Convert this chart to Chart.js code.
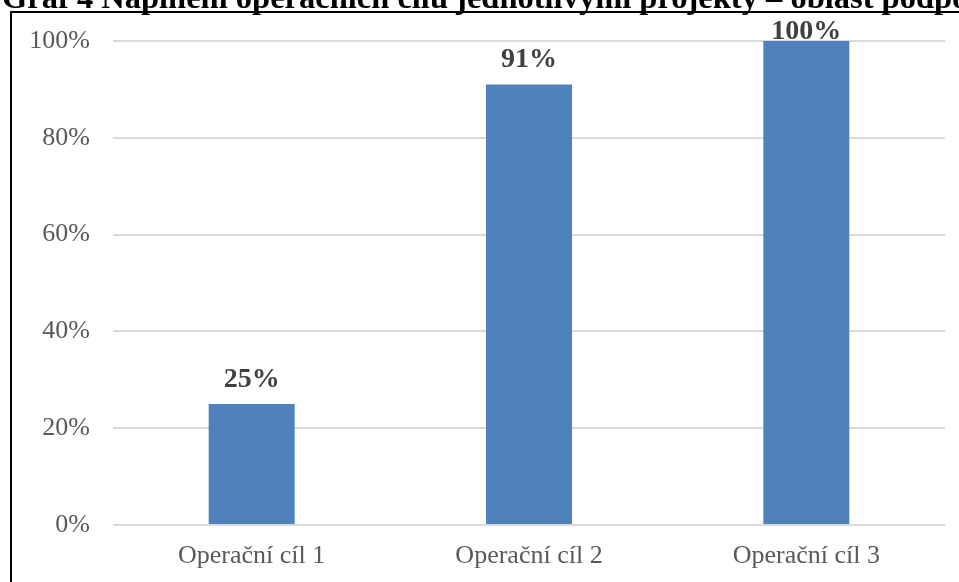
<!DOCTYPE html>
<html><head><meta charset="utf-8">
<script src="https://cdn.jsdelivr.net/npm/chart.js@4/dist/chart.umd.min.js"></script>
<style>
html,body{margin:0;padding:0;background:#fff;width:959px;height:582px;overflow:hidden;position:relative}
#wrap{position:absolute;left:0;top:0;width:959px;height:582px}
#title{position:absolute;left:2px;top:-21px;line-height:36px;font:bold 32.5px "Liberation Serif",serif;white-space:nowrap;color:#000}
#frame{position:absolute;left:10px;top:11px;width:947px;height:571px;border-left:2px solid #000;border-top:2px solid #000;pointer-events:none}
</style></head><body>
<div id="wrap"><canvas id="c" width="959" height="582"></canvas></div>
<div id="title">Graf 4 Naplnění operačních cílů jednotlivými projekty – oblast podpory</div>
<div id="frame"></div>
<script>
const categories = ['Operační cíl 1', 'Operační cíl 2', 'Operační cíl 3'];
const values = [25, 91, 100];
const valueLabels = ['25%', '91%', '100%'];
const yTickLabels = ['0%', '20%', '40%', '60%', '80%', '100%'];

const labelPlugin = {
  id: 'barLabels',
  afterDatasetsDraw(chart) {
    const ctx = chart.ctx;
    const meta = chart.getDatasetMeta(0);
    ctx.save();
    ctx.font = 'bold 28px "Liberation Serif", serif';
    ctx.fillStyle = '#404040';
    ctx.textAlign = 'center';
    ctx.textBaseline = 'alphabetic';
    meta.data.forEach((bar, i) => {
      const y = Math.max(bar.y - 17.5, chart.chartArea.top - 2);
      ctx.fillText(valueLabels[i], bar.x, y);
    });
    ctx.restore();
  }
};

new Chart(document.getElementById('c'), {
  type: 'bar',
  data: {
    labels: categories,
    datasets: [{
      data: values,
      backgroundColor: '#4f81bd',
      borderWidth: 0,
      categoryPercentage: 1,
      barPercentage: 0.31
    }]
  },
  options: {
    responsive: false,
    animation: false,
    layout: { padding: { left: 0, top: 41, right: 14, bottom: 0 } },
    plugins: { legend: { display: false }, tooltip: { enabled: false } },
    scales: {
      x: {
        grid: { display: false, drawTicks: false },
        border: { display: false },
        ticks: { color: '#595959', font: { family: '"Liberation Serif", serif', size: 26 }, padding: 16, maxRotation: 0 },
        afterFit(s) { s.height = 57; }
      },
      y: {
        min: 0, max: 100,
        grid: { color: '#d9d9d9', lineWidth: 2, drawTicks: false },
        border: { display: false },
        ticks: {
          stepSize: 20,
          color: '#595959',
          font: { family: '"Liberation Serif", serif', size: 26 },
          padding: 23,
          callback: (v) => yTickLabels[Math.round(v / 20)]
        },
        afterFit(s) { s.width = 113; }
      }
    }
  },
  plugins: [labelPlugin]
});
</script>
</body></html>
